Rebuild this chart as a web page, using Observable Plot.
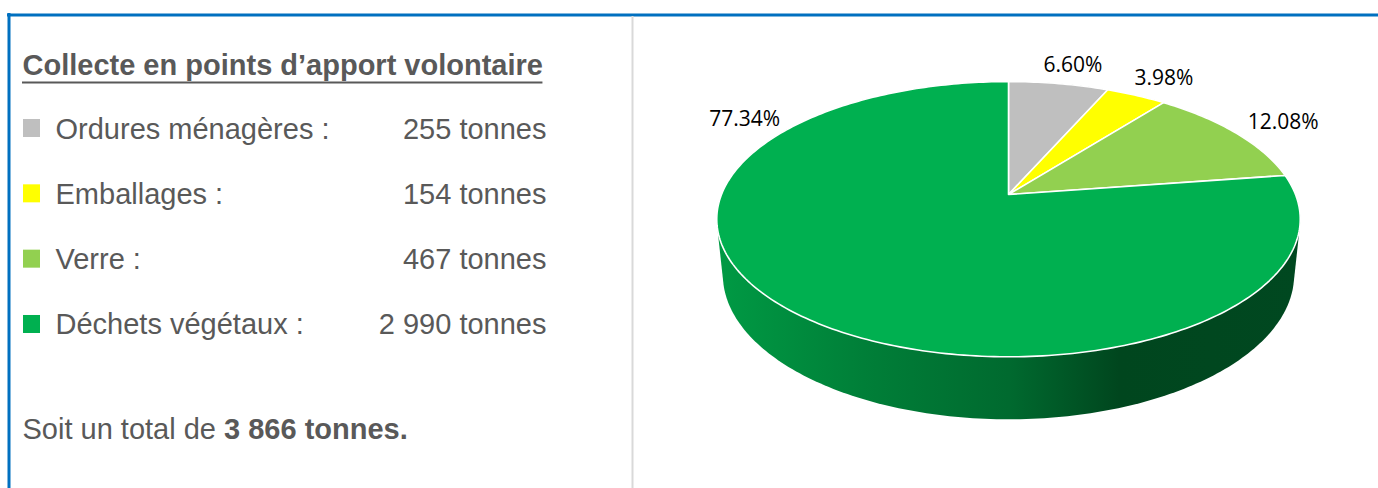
<!DOCTYPE html>
<html><head><meta charset="utf-8">
<script src="https://cdn.jsdelivr.net/npm/d3@7"></script>
<script src="https://cdn.jsdelivr.net/npm/@observablehq/plot@0.6"></script>
<style>html,body{margin:0;padding:0;background:#fff;} svg{display:block;}</style>
</head><body><div id="chart"></div>
<script>
// ---- data ----
const categories = ["Ordures ménagères", "Emballages", "Verre", "Déchets végétaux"];
const tonnes = [255, 154, 467, 2990];
const colors = ["#BFBFBF", "#FFFF00", "#92D050", "#00B050"];
const title = "Collecte en points d’apport volontaire";
const totalPrefix = "Soit un total de ";
const unit = "tonnes";

// ---- layout ----
const W = 1378, H = 488;
const textColor = "#595959";
const fontUI = "'Liberation Sans', Arial, sans-serif";
const fontLbl = "'Open Sans', sans-serif";
const fs = 29;
const total = d3.sum(tonnes);
const fmtFr = n => d3.format(",")(n).replace(/,/g, " ");

const canvas = document.createElement("canvas");
const ctx = canvas.getContext("2d");
function measure(t, weight) { ctx.font = `${weight} ${fs}px 'Liberation Sans'`; return ctx.measureText(t).width; }

// ---- 3D pie projection ----
const cx = 1008, cy = 194, k = 287, D = 4.94, depth = 0.22;
const alpha = 27.65 * Math.PI / 180, sinA = Math.sin(alpha), cosA = Math.cos(alpha);
function proj(x, y, z) {
  const u = y * cosA - z * sinA, w = y * sinA + z * cosA, s = D / (D - w);
  return [cx + k * x * s, cy - k * u * s];
}
const rim = (phi, r = 1, y = 0) => proj(r * Math.sin(phi), y, -r * Math.cos(phi));

const fracs = tonnes.map(v => v / total);
const starts = d3.cumsum([0, ...fracs]);
const slices = tonnes.map((v, i) => {
  const a0 = starts[i] * 2 * Math.PI, a1 = starts[i + 1] * 2 * Math.PI;
  const n = Math.max(2, Math.ceil((a1 - a0) / (Math.PI / 180)));
  const pts = [proj(0, 0, 0)];
  for (let j = 0; j <= n; j++) pts.push(rim(a0 + (a1 - a0) * j / n));
  pts.push(proj(0, 0, 0));
  return {i, a0, a1, color: colors[i], pts: pts.map(p => ({x: p[0], y: p[1]})), pct: (v / total * 100).toFixed(2) + "%"};
});

// side: hull of top and bottom rims
const rimPts = [];
for (let d = 0; d < 360; d += 1) {
  const p = d * Math.PI / 180;
  rimPts.push(rim(p, 1, 0), rim(p, 1, -depth));
}
const hull = d3.polygonHull(rimPts);
hull.push(hull[0]);
const sidePts = hull.map(p => ({x: p[0], y: p[1]}));
const hx0 = d3.min(hull, p => p[0]), hx1 = d3.max(hull, p => p[0]);

// labels
const bigLabelAngle = 301 * Math.PI / 180;
const labels = slices.map(s => {
  let mid = (s.a0 + s.a1) / 2;
  let r = 1.2;
  if (mid > Math.PI / 2 && mid < 3 * Math.PI / 2) { mid = bigLabelAngle; r = 1.22; }
  const p = rim(mid, r);
  return {x: p[0] + 6, y: p[1], text: s.pct};
});

// left panel rows
const rows = categories.map((c, i) => ({label: c + " :", value: fmtFr(tonnes[i]) + " " + unit, color: colors[i], base: 138 + i * 65.33}));
const titleW = measure(title, "bold");
const prefixW = measure(totalPrefix, "normal");

const marks = [
  // frame
  Plot.ruleY([14.5], {x1: () => 7, x2: () => W, stroke: "#0070C0", strokeWidth: 3}),
  Plot.ruleX([8.5], {y1: () => 13, y2: () => H, stroke: "#0070C0", strokeWidth: 3}),
  Plot.ruleX([632], {y1: () => 16, y2: () => H, stroke: "#D9D9D9", strokeWidth: 2}),
  // left text
  Plot.text([title], {x: () => 22, y: () => 74, text: d => d, fontSize: fs, fontWeight: "bold", fontFamily: fontUI, fill: textColor, textAnchor: "start", lineAnchor: "bottom"}),
  Plot.ruleY([82], {x1: () => 22, x2: () => 22 + titleW, stroke: textColor, strokeWidth: 2}),
  Plot.rect(rows, {x1: () => 23, x2: () => 40, y1: d => d.base - 19, y2: d => d.base - 1, fill: d => d.color}),
  Plot.text(rows, {x: () => 55, y: d => d.base, text: d => d.label, fontSize: fs, fontFamily: fontUI, fill: textColor, textAnchor: "start", lineAnchor: "bottom"}),
  Plot.text(rows, {x: () => 546, y: d => d.base, text: d => d.value, fontSize: fs, fontFamily: fontUI, fill: textColor, textAnchor: "end", lineAnchor: "bottom"}),
  Plot.text([totalPrefix], {x: () => 22, y: () => 438, text: d => d, fontSize: fs, fontFamily: fontUI, fill: textColor, textAnchor: "start", lineAnchor: "bottom"}),
  Plot.text([fmtFr(total) + " " + unit + "."], {x: () => 22 + prefixW, y: () => 438, text: d => d, fontSize: fs, fontWeight: "bold", fontFamily: fontUI, fill: textColor, textAnchor: "start", lineAnchor: "bottom"}),
  // pie side
  Plot.line(sidePts, {x: "x", y: "y", fill: "url(#sideGrad)", stroke: "none"}),
  // pie top slices
  ...slices.map(s => Plot.line(s.pts, {x: "x", y: "y", fill: s.color, stroke: "#FFFFFF", strokeWidth: 1.6, strokeLinejoin: "round"})),
  // labels
  Plot.text(labels, {x: "x", y: "y", text: "text", fontSize: 21, fontFamily: fontLbl, fill: "#000", textAnchor: "middle"})
];

const svg = Plot.plot({
  width: W, height: H,
  marginTop: 0, marginRight: 0, marginBottom: 0, marginLeft: 0,
  x: {domain: [0, W], range: [0, W], axis: null},
  y: {domain: [0, H], range: [0, H], axis: null},
  color: {type: "identity"},
  style: {background: "#fff", overflow: "visible"},
  marks
});
const defs = document.createElementNS("http://www.w3.org/2000/svg", "defs");
defs.innerHTML = `<linearGradient id="sideGrad" gradientUnits="userSpaceOnUse" x1="${hx0}" y1="0" x2="${hx1}" y2="0">
  <stop offset="0" stop-color="#009A44"/>
  <stop offset="0.25" stop-color="#007F38"/>
  <stop offset="0.5" stop-color="#006A2F"/>
  <stop offset="0.69" stop-color="#00461E"/>
  <stop offset="1" stop-color="#004820"/>
</linearGradient>`;
svg.insertBefore(defs, svg.firstChild);
document.getElementById("chart").appendChild(svg);
</script>
</body></html>
